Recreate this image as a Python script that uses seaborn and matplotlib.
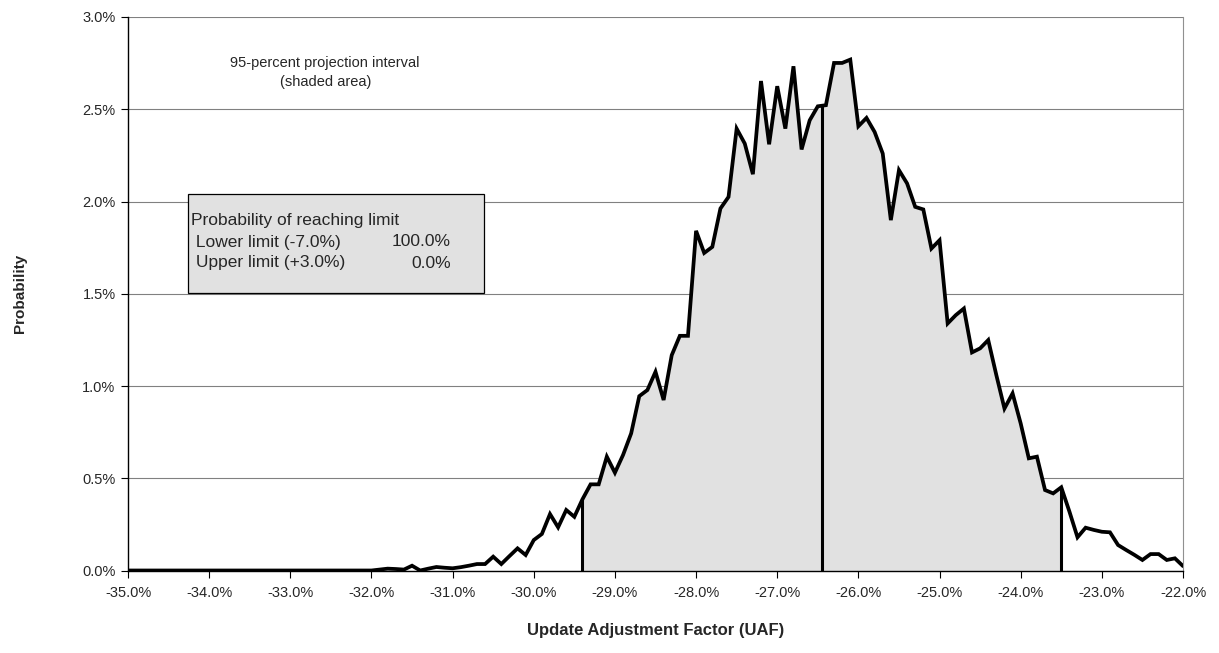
import numpy as np
import pandas as pd
import matplotlib
matplotlib.use("Agg")
import matplotlib.pyplot as plt
from matplotlib.ticker import FuncFormatter, MultipleLocator
import seaborn as sns

# Distribution of the update adjustment factor (percent) and its probability (percent)
uaf = np.round(np.arange(-35.0, -21.95, 0.1), 1)
probability = [
    # -35.0 .. -32.1
    0.0, 0.0, 0.0, 0.0, 0.0, 0.0, 0.0, 0.0, 0.0, 0.0,
    0.0, 0.0, 0.0, 0.0, 0.0, 0.0, 0.0, 0.0, 0.0, 0.0,
    0.0, 0.0, 0.0, 0.0, 0.0, 0.0, 0.0, 0.0, 0.0, 0.0,
    # -32.0 .. -27.7
    0.0, 0.005, 0.01, 0.008, 0.005, 0.026, 0.0, 0.01, 0.019, 0.015,
    0.012, 0.018, 0.026, 0.035, 0.035, 0.075, 0.035, 0.078, 0.12, 0.084,
    0.165, 0.198, 0.306, 0.234, 0.328, 0.291, 0.386, 0.467, 0.467, 0.617,
    0.53, 0.626, 0.743, 0.945, 0.978, 1.077, 0.924, 1.167, 1.272, 1.272,
    1.841, 1.721, 1.754, 1.962,
    # -27.6 .. -23.8
    2.025, 2.395, 2.314, 2.148, 2.653, 2.310, 2.625, 2.395, 2.733, 2.282,
    2.440, 2.516, 2.522, 2.751, 2.751, 2.769, 2.408, 2.453, 2.377, 2.26,
    1.899, 2.170, 2.098, 1.971, 1.957, 1.745, 1.790, 1.339, 1.384, 1.420,
    1.182, 1.204, 1.249, 1.059, 0.878, 0.960, 0.797, 0.608, 0.617,
    # -23.7 .. -22.0
    0.436, 0.418, 0.451, 0.32, 0.180, 0.232, 0.22, 0.210, 0.207, 0.138,
    0.111, 0.085, 0.057, 0.089, 0.089, 0.057, 0.066, 0.024,
]

interval_low = -29.4
interval_median = -26.45
interval_high = -23.5

box_lines = ["Probability of reaching limit", " Lower limit (-7.0%)", " Upper limit (+3.0%)"]
box_values = ["", "100.0%", "0.0%"]

df = pd.DataFrame({"uaf": uaf, "probability": probability})

sns.set_style("white")
plt.rcParams["font.family"] = ["Liberation Sans", "DejaVu Sans"]

W, H = 1219, 653
fig = plt.figure(figsize=(W / 100, H / 100), dpi=100)
left, right, top, bottom = 128, 1183, 17, 570.5
ax = fig.add_axes([left / W, 1 - bottom / H, (right - left) / W, (bottom - top) / H])

# shaded 95-percent projection interval
inside = df[(df.uaf > interval_low) & (df.uaf < interval_high)]
fx = np.concatenate([[interval_low], inside.uaf.values, [interval_high]])
fy = np.interp(fx, df.uaf.values, df.probability.values)
ax.fill_between(fx, 0, fy, color="#e1e1e1", linewidth=0, zorder=1)

sns.lineplot(data=df, x="uaf", y="probability", color="black", linewidth=2.7,
             ax=ax, zorder=4, solid_joinstyle="miter")

for b in (interval_low, interval_median, interval_high):
    top_val = np.interp(b, df.uaf.values, df.probability.values)
    ax.plot([b, b], [0, top_val], color="black", linewidth=2.2, zorder=3,
            solid_capstyle="butt")

ax.set_xlim(-35, -22)
ax.set_ylim(0, 3.0)
ax.xaxis.set_major_locator(MultipleLocator(1.0))
ax.yaxis.set_major_locator(MultipleLocator(0.5))
ax.xaxis.set_major_formatter(FuncFormatter(lambda v, p: f"{v:.1f}%"))
ax.yaxis.set_major_formatter(FuncFormatter(lambda v, p: f"{v:.1f}%"))
ax.grid(axis="y", color="#808080", linewidth=0.8, zorder=0)
ax.set_axisbelow(True)
ax.tick_params(axis="both", direction="out", length=5, width=0.8, color="black",
               labelsize=10.5, pad=4, bottom=True, left=True)
ax.tick_params(axis="x", pad=6)
for s in ("left", "bottom"):
    ax.spines[s].set_color("black")
    ax.spines[s].set_linewidth(1.0)
ax.spines["right"].set_color("#909090")
ax.spines["right"].set_linewidth(0.8)
ax.spines["top"].set_visible(False)

ax.set_xlabel("Update Adjustment Factor (UAF)", fontsize=12, fontweight="bold", labelpad=17)
ax.set_ylabel("Probability", fontsize=11, fontweight="bold", labelpad=40)

# annotation text
ax.text(-32.57, 2.70, "95-percent projection interval\n(shaded area)", ha="center",
        va="center", fontsize=10.5, linespacing=1.45, zorder=5)

# probability-of-limit box
def to_data(px, py):
    return (-35 + (px - left) / (right - left) * 13, 3.0 * (bottom - py) / (bottom - top))

bx0, by0 = to_data(188, 293)
bx1, by1 = to_data(484, 194)
ax.add_patch(plt.Rectangle((bx0, by0), bx1 - bx0, by1 - by0, facecolor="#e1e1e1",
                           edgecolor="black", linewidth=0.9, zorder=5))
for i, (lab, val) in enumerate(zip(box_lines, box_values)):
    ypx = 221 + i * 21
    tx, ty = to_data(191, ypx)
    ax.text(tx, ty, lab, ha="left", va="center", fontsize=12.5, zorder=6)
    if val:
        vx, vy = to_data(451, ypx)
        ax.text(vx, vy, val, ha="right", va="center", fontsize=12.5, zorder=6)

fig.savefig("out.png", dpi=100, facecolor="white")
